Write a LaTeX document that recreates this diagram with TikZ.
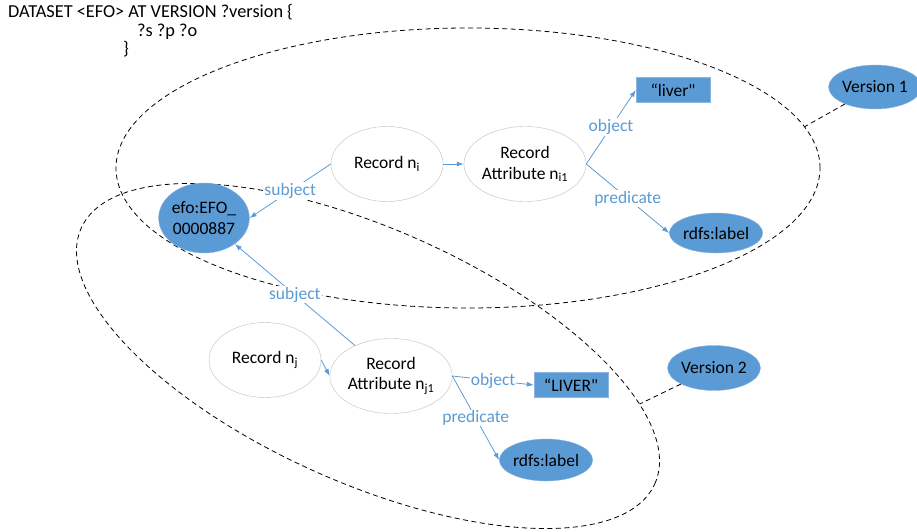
\documentclass[tikz,border=0pt]{standalone}
\usepackage{fontspec}
\setmainfont{Carlito}[Ligatures=TeXOff]
\usepackage{tikz}
\usetikzlibrary{shapes.geometric}
\usetikzlibrary{arrows.meta}

\definecolor{accent}{HTML}{5B9BD5}
\definecolor{accentedge}{HTML}{8DB4E2}

\begin{document}
\begin{tikzpicture}[x=1pt,y=-1pt,
	every node/.style={font=\fontsize{17.5}{20.5}\selectfont},
	rec/.style={ellipse,draw=black!25,fill=white,minimum width=112pt,minimum height=75pt,align=center,inner sep=0pt},
	term/.style={ellipse,draw=accentedge,fill=accent,align=center,inner sep=0pt},
	lit/.style={rectangle,draw=accentedge,fill=accent,minimum width=74pt,minimum height=25pt,inner sep=0pt},
	grp/.style={ellipse,draw,dashed,dash pattern=on 5pt off 3.5pt,line width=0.8pt,inner sep=0pt},
	rel/.style={draw=accent,line width=0.8pt,-{Latex[length=7pt,width=5pt]}},
	lbl/.style={fill=white,text=accent,inner sep=1pt}]
	\useasboundingbox (0,0) rectangle (917,532);

	\node[anchor=base west,inner sep=0pt,font=\fontsize{18.3}{22}\selectfont] (hdr1) at (8,18) {DATASET <EFO> AT VERSION ?version \{};
	\node[anchor=base west,inner sep=0pt,font=\fontsize{18.3}{22}\selectfont] (hdr2) at (137,37) {?s ?p ?o};
	\node[anchor=base west,inner sep=0pt,font=\fontsize{18.3}{22}\selectfont] (hdr3) at (123,55) {\}};

	\node[grp,minimum width=704pt,minimum height=280pt] (grpA) at (468,168) {};
	\node[grp,minimum width=628pt,minimum height=254pt,rotate=-24] (grpB) at (368,356) {};

	\node[term,minimum width=84pt,minimum height=44pt] (v1) at (875,87) {Version 1};
	\node[term,minimum width=88pt,minimum height=45pt] (v2) at (714,368) {Version 2};
	\draw[dashed,dash pattern=on 5pt off 3.5pt,line width=0.8pt] (v1) -- (grpA.7);
	\draw[dashed,dash pattern=on 5pt off 3.5pt,line width=0.8pt] (v2) -- (grpB.14);

	\node[term,minimum width=88pt,minimum height=70pt] (efo) at (204,218) {efo:EFO\_\\0000887};
	\node[rec] (ri) at (387,164) {Record n\textsubscript{i}};
	\node[rec] (ra) at (525,164) {Record\\Attribute n\textsubscript{i1}};
	\node[lit] (liver) at (673,90) {“liver"};
	\node[term,minimum width=90pt,minimum height=40pt] (lab1) at (716,233) {rdfs:label};
	\node[rec] (rj) at (265,360) {Record n\textsubscript{j}};
	\node[rec] (rb) at (391,376) {Record\\Attribute n\textsubscript{j1}};
	\node[lit] (bigliver) at (571,385) {“LIVER"};
	\node[term,minimum width=89pt,minimum height=42pt] (lab2) at (546,460) {rdfs:label};

	\draw[rel] (ri.west) -- node[lbl] {subject} (efo.east);
	\draw[rel] (ri.east) -- (ra.west);
	\draw[rel] (ra.east) -- node[lbl] {object} (liver.west);
	\draw[rel] (ra.east) -- node[lbl] {predicate} (lab1.west);
	\draw[rel] (rb) -- node[lbl] {subject} (efo);
	\draw[rel] (rj.east) -- (rb.west);
	\draw[rel] (rb.east) -- node[lbl] {object} (bigliver.west);
	\draw[rel] (rb.east) -- node[lbl] {predicate} (lab2.west);
\end{tikzpicture}
\end{document}
